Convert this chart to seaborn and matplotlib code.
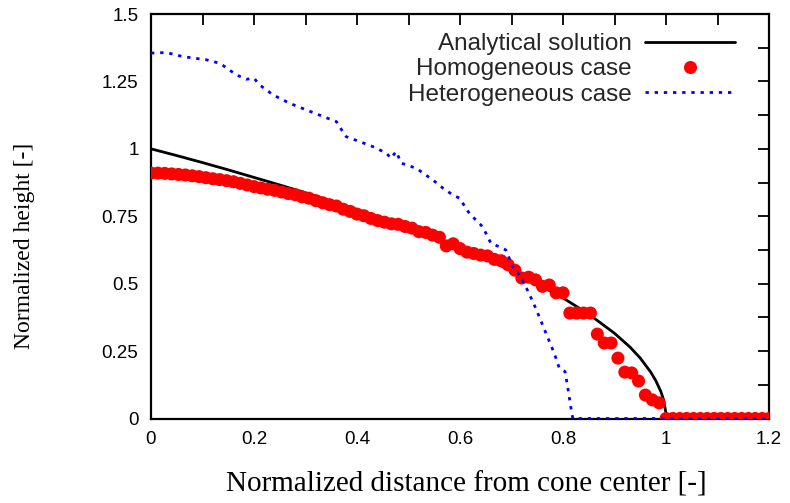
import numpy as np
import pandas as pd
import matplotlib
matplotlib.use("Agg")
import matplotlib.pyplot as plt
import seaborn as sns
from matplotlib.lines import Line2D
from matplotlib.ticker import MultipleLocator, FixedLocator

# ---------------- data ----------------
# Analytical solution
ana_x = [0.0, 0.05, 0.1, 0.15, 0.2, 0.25, 0.3, 0.35, 0.4, 0.45, 0.5, 0.55, 0.6,
         0.65, 0.7, 0.75, 0.8, 0.85, 0.9, 0.93, 0.95, 0.97, 0.98, 0.99, 0.995, 1.0, 1.0, 1.2]
ana_y = [1.0, 0.975, 0.949, 0.922, 0.894, 0.866, 0.837, 0.806, 0.775, 0.742, 0.707,
         0.671, 0.632, 0.592, 0.548, 0.5, 0.447, 0.387, 0.316, 0.265, 0.224, 0.173,
         0.141, 0.1, 0.071, 0.02, 0.0, 0.0]

# Homogeneous case (one marker every 1/75)
hom_x = [k / 75 for k in range(91)]
hom_y = [0.910, 0.910, 0.909, 0.907, 0.905, 0.903, 0.900, 0.897, 0.893, 0.889,
         0.886, 0.882, 0.878, 0.872, 0.866, 0.860, 0.855, 0.850, 0.846, 0.840,
         0.834, 0.830, 0.822, 0.817, 0.808, 0.800, 0.793, 0.788, 0.776, 0.768,
         0.758, 0.752, 0.742, 0.734, 0.728, 0.722, 0.720, 0.712, 0.706, 0.693,
         0.690, 0.680, 0.672, 0.640, 0.648, 0.630, 0.617, 0.612, 0.606, 0.603,
         0.590, 0.585, 0.570, 0.550, 0.521, 0.524, 0.514, 0.490, 0.495, 0.466,
         0.466, 0.391, 0.391, 0.391, 0.391, 0.313, 0.280, 0.280, 0.224, 0.172,
         0.169, 0.139, 0.087, 0.069, 0.058, 0.0, 0.0, 0.0, 0.0, 0.0,
         0.0, 0.0, 0.0, 0.0, 0.0, 0.0, 0.0, 0.0, 0.0, 0.0, 0.0]

# Heterogeneous case
het_x = [0.0, 0.03, 0.062, 0.108, 0.134, 0.166, 0.185, 0.2, 0.211, 0.237, 0.269,
         0.302, 0.334, 0.36, 0.366, 0.379, 0.405, 0.431, 0.457, 0.466, 0.476,
         0.486, 0.515, 0.547, 0.567, 0.586, 0.599, 0.618, 0.644, 0.66, 0.676,
         0.689, 0.702, 0.718, 0.734, 0.747, 0.767, 0.783, 0.793, 0.804, 0.809,
         0.815, 0.819, 1.2]
het_y = [1.355, 1.357, 1.342, 1.33, 1.317, 1.274, 1.258, 1.262, 1.237, 1.2, 1.169,
         1.144, 1.12, 1.101, 1.082, 1.045, 1.027, 1.008, 0.984, 0.965, 0.99,
         0.947, 0.928, 0.885, 0.854, 0.829, 0.817, 0.761, 0.711, 0.65, 0.637,
         0.625, 0.563, 0.526, 0.464, 0.409, 0.316, 0.242, 0.186, 0.174, 0.118,
         0.044, 0.0, 0.0]

x_ticks = [0, 0.2, 0.4, 0.6, 0.8, 1.0, 1.2]
x_labels = ["0", "0.2", "0.4", "0.6", "0.8", "1", "1.2"]
y_ticks = [0, 0.25, 0.5, 0.75, 1.0, 1.25, 1.5]
y_labels = ["0", "0.25", "0.5", "0.75", "1", "1.25", "1.5"]

# ---------------- plot ----------------
sns.set_theme(style="white")
plt.rcParams["font.family"] = ["Liberation Sans", "DejaVu Sans"]

fig = plt.figure(figsize=(7.9, 5.03), dpi=100)
ax = fig.add_axes([151 / 790, (503 - 418.5) / 503, (769 - 151) / 790, (418.5 - 14) / 503])

df_a = pd.DataFrame({"x": ana_x, "y": ana_y})
df_h = pd.DataFrame({"x": hom_x, "y": hom_y})
df_t = pd.DataFrame({"x": het_x, "y": het_y})

dash = (0, (1.2, 2.1))
sns.lineplot(data=df_a, x="x", y="y", ax=ax, color="black", lw=2.0,
             sort=False, estimator=None, zorder=2)
sns.scatterplot(data=df_h, x="x", y="y", ax=ax, color="#ff0000", s=88,
                edgecolor="none", linewidth=0, zorder=3)
sns.lineplot(data=df_t, x="x", y="y", ax=ax, color="#0000ff", lw=2.0,
             linestyle=dash, sort=False, estimator=None, zorder=4)

ax.set_xlim(0, 1.2)
ax.set_ylim(0, 1.5)
ax.xaxis.set_major_locator(FixedLocator(x_ticks))
ax.set_xticklabels(x_labels)
ax.xaxis.set_minor_locator(MultipleLocator(0.1))
ax.yaxis.set_major_locator(FixedLocator(y_ticks))
ax.set_yticklabels(y_labels)
ax.yaxis.set_minor_locator(MultipleLocator(0.125))

ax.tick_params(which="both", direction="in", top=True, right=True,
               length=8, width=1.3, color="black")
ax.tick_params(which="major", labelsize=13.5, pad=9, labelcolor="black")
for sp in ax.spines.values():
    sp.set_visible(True)
    sp.set_color("black")
    sp.set_linewidth(1.6)

ax.set_xlabel("Normalized distance from cone center [-]", family="Liberation Serif",
              fontsize=21, color="black")
ax.xaxis.set_label_coords((466 - 151) / 618, -(485 - 418.5) / 404.5)
ax.xaxis.label.set_va("center")
ax.set_ylabel("Normalized height [-]", family="Liberation Serif",
              fontsize=17, color="black")
ax.yaxis.set_label_coords((25 - 151) / 618, (418.5 - 246) / 404.5)
ax.yaxis.label.set_va("center")

handles = [
    Line2D([], [], color="black", lw=2.0),
    Line2D([], [], color="#ff0000", marker="o", ls="none", markersize=9.4, markeredgewidth=0),
    Line2D([], [], color="#0000ff", lw=2.0, linestyle=dash),
]
labels = ["Analytical solution", "Homogeneous case", "Heterogeneous case"]
leg = ax.legend(handles, labels, loc="upper right", markerfirst=False,
                frameon=False, fontsize=17.5, handlelength=3.7, handletextpad=0.55,
                labelspacing=0.14, borderaxespad=0, borderpad=0,
                bbox_to_anchor=((735 - 151) / 618, (418.5 - 33) / 404.5))
for t in leg.get_texts():
    t.set_ha("right")
leg._legend_box.align = "right"

fig.savefig("out.png", dpi=100)
